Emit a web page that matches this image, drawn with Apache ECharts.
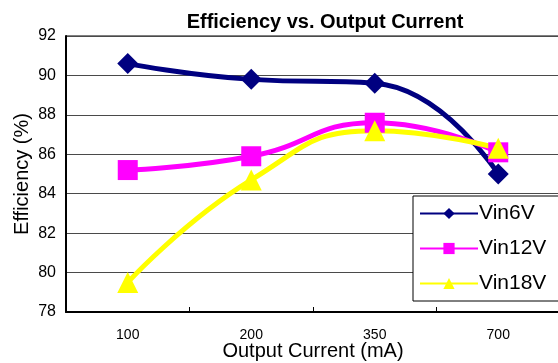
<!DOCTYPE html>
<html>
<head>
<meta charset="utf-8">
<script src="https://cdn.jsdelivr.net/npm/echarts@6/dist/echarts.min.js"></script>
<style>
  html, body { margin: 0; padding: 0; background: #ffffff; }
  #chart { width: 558px; height: 363px; }
</style>
</head>
<body>
<div id="chart"></div>
<script>
// Output current categories (mA)
const currents = ['100', '200', '350', '700'];

// Efficiency (%) for each input voltage
const vin6V = [90.6, 89.8, 89.6, 85.0];
const vin12V = [85.2, 85.9, 87.6, 86.1];
const vin18V = [79.5, 84.7, 87.2, 86.3];

const seriesNames = ['Vin6V', 'Vin12V', 'Vin18V'];

const FONT = '"Liberation Sans", Arial, sans-serif';

function makeSeries(name, data, color, symbol, size) {
  return {
    name: name,
    type: 'line',
    data: data,
    smooth: 0.5,
    symbol: symbol,
    symbolSize: size,
    showAllSymbol: true,
    lineStyle: { color: color, width: 5 },
    itemStyle: { color: color, borderWidth: 0 },
    emphasis: { disabled: true }
  };
}

const chart = echarts.init(document.getElementById('chart'), null, { renderer: 'canvas' });

chart.setOption({
  animation: false,
  backgroundColor: '#ffffff',
  title: {
    text: 'Efficiency vs. Output Current',
    left: 320,
    textAlign: 'center',
    top: 7,
    textStyle: { fontFamily: FONT, fontSize: 20, fontWeight: 'bold', color: '#000' }
  },
  grid: {
    left: 66, top: 36, width: 494, height: 276,
    containLabel: false,
    outerBoundsMode: 'none',
    show: true, borderColor: '#000', borderWidth: 1, backgroundColor: 'transparent'
  },
  legend: {
    data: seriesNames,
    orient: 'vertical',
    left: 413,
    top: 196,
    width: 150,
    padding: [7, 20, 7, 6],
    itemGap: 14,
    itemWidth: 58,
    itemHeight: 14,
    backgroundColor: '#ffffff',
    borderColor: '#000',
    borderWidth: 1,
    textStyle: { fontFamily: FONT, fontSize: 21, color: '#000', padding: [0, 0, 0, -4] }
  },
  xAxis: {
    type: 'category',
    data: currents,
    boundaryGap: true,
    name: 'Output Current (mA)',
    nameLocation: 'middle',
    nameGap: 29,
    nameMoveOverlap: false,
    nameTextStyle: { fontFamily: FONT, fontSize: 20, color: '#000' },
    axisLine: { lineStyle: { color: '#000', width: 2 } },
    axisTick: { show: true, inside: true, length: 5, lineStyle: { color: '#000' } },
    axisLabel: { fontFamily: FONT, fontSize: 14, color: '#000', margin: 16 },
    splitLine: { show: false }
  },
  yAxis: {
    type: 'value',
    min: 78,
    max: 92,
    interval: 2,
    name: 'Efficiency (%)',
    nameLocation: 'middle',
    nameGap: 34,
    nameMoveOverlap: false,
    nameTextStyle: { fontFamily: FONT, fontSize: 20, color: '#000' },
    axisLine: { show: true, lineStyle: { color: '#000', width: 2 } },
    axisTick: { show: false },
    axisLabel: { fontFamily: FONT, fontSize: 16, color: '#000', margin: 10 },
    splitLine: { show: true, lineStyle: { color: '#4a4a4a', width: 1 } }
  },
  series: [
    makeSeries('Vin6V', vin6V, '#000080', 'diamond', 21),
    makeSeries('Vin12V', vin12V, '#ff00ff', 'rect', 20),
    makeSeries('Vin18V', vin18V, '#ffff00', 'triangle', 21)
  ]
});
</script>
</body>
</html>
